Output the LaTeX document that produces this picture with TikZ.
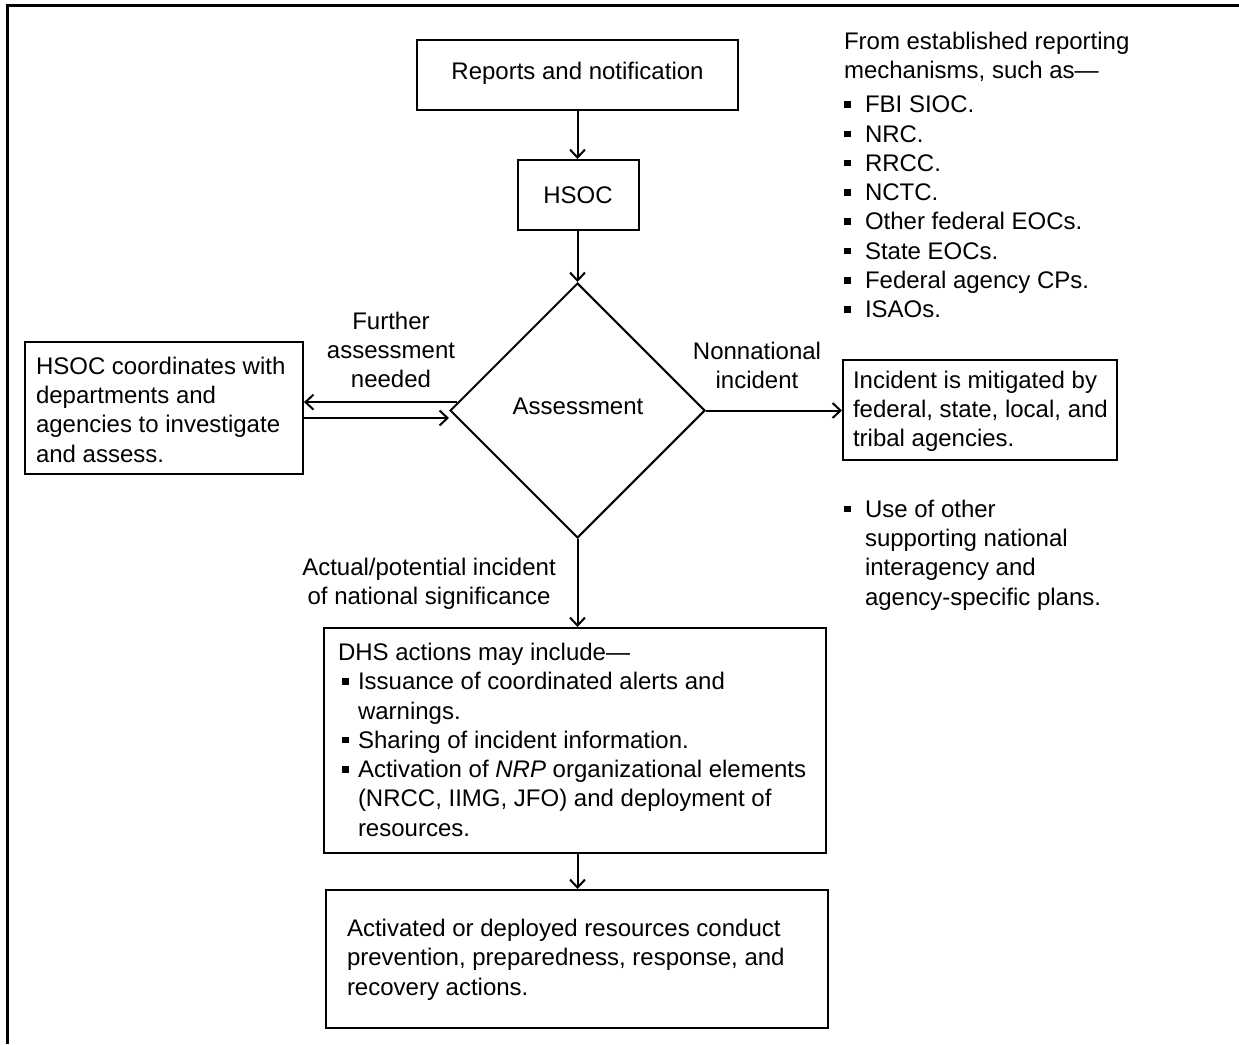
\documentclass[tikz,border=0pt]{standalone}
\usepackage{fontspec}
\setmainfont{Liberation Sans}
\usetikzlibrary{shapes.geometric,arrows.meta}
\newcommand{\sqbul}{\makebox[21pt][l]{\rule[5pt]{6.5pt}{6.5pt}}}
\newcommand{\sqbulin}{\makebox[20pt][l]{\hspace{4pt}\rule[5pt]{6.5pt}{6.5pt}}}
\begin{document}
\begin{tikzpicture}[x=1pt,y=-1pt,line width=2pt,
  txt/.style={font=\fontsize{24}{29.3}\selectfont,inner sep=0pt},
  frame/.style={draw,rectangle,inner sep=0pt,line width=2pt},
  decide/.style={draw,diamond,inner sep=0pt,line width=2pt,minimum width=255pt,minimum height=255pt},
  flow/.style={-{Straight Barb[length=8pt,width=15pt]}}]
\useasboundingbox (0,0) rectangle (1239,1044);
% outer frame (runs past the page edges)
\draw[line width=3pt] (7,1044) -- (7,5) -- (1239,5);

% boxes
\node[frame,minimum width=321pt,minimum height=70pt] (rep) at (577.5,75) {};
\node[txt] (reptxt) at (577.5,73) {Reports and notification};
\node[frame,minimum width=121pt,minimum height=70pt] (hsoc) at (578,195) {};
\node[txt] (hsoctxt) at (578,195) {HSOC};
\node[decide] (dia) at (577.5,410.5) {};
\node[txt] (diatxt) at (578,406) {Assessment};
\node[frame,minimum width=278pt,minimum height=132pt] (lbox) at (164,408) {};
\node[txt,anchor=north west,align=left] (lboxtxt) at (35,356)
  {HSOC coordinates with\\departments and\\agencies to investigate\\and assess.};
\node[frame,minimum width=274pt,minimum height=100pt] (rbox) at (980,410) {};
\node[txt,anchor=north west,align=left] (rboxtxt) at (852,370)
  {Incident is mitigated by\\federal, state, local, and\\tribal agencies.};
\node[frame,minimum width=502pt,minimum height=225pt] (dhs) at (575,740.5) {};
\node[txt,anchor=north west,align=left] (dhstxt) at (337,642)
  {DHS actions may include---\\
   \sqbulin Issuance of coordinated alerts and\\
   \hspace*{20pt}warnings.\\
   \sqbulin Sharing of incident information.\\
   \sqbulin Activation of \textit{NRP} organizational elements\\
   \hspace*{20pt}(NRCC, IIMG, JFO) and deployment of\\
   \hspace*{20pt}resources.};
\node[frame,minimum width=502pt,minimum height=138pt] (act) at (577,959) {};
\node[txt,anchor=north west,align=left] (acttxt) at (346,918)
  {Activated or deployed resources conduct\\prevention, preparedness, response, and\\recovery actions.};

% side notes
\node[txt,anchor=north west,align=left] (srcs) at (843,31)
  {From established reporting\\mechanisms, such as---};
\node[txt,anchor=north west,align=left] (srclist) at (843,95)
  {\sqbul FBI SIOC.\\\sqbul NRC.\\\sqbul RRCC.\\\sqbul NCTC.\\\sqbul Other federal EOCs.\\
   \sqbul State EOCs.\\\sqbul Federal agency CPs.\\\sqbul ISAOs.};
\node[txt,anchor=north west,align=left] (plans) at (843,499)
  {\sqbul Use of other\\\hspace*{21pt}supporting national\\\hspace*{21pt}interagency and\\\hspace*{21pt}agency-specific plans.};

% connector labels
\node[txt,anchor=north,align=center] (lblfur) at (391,311) {Further\\assessment\\needed};
\node[txt,anchor=north,align=center] (lblnon) at (757,341) {Nonnational\\incident};
\node[txt,anchor=north,align=center] (lblact) at (429,557) {Actual/potential incident\\of national significance};

% connectors
\coordinate (lo) at (0,418);
\draw[flow] (rep.south) -- (rep.south |- hsoc.north);
\draw[flow] (hsoc.south -| dia.north) -- (dia.north);
\draw[flow] (dia.176) -- (lbox.east |- dia.176);
\draw[flow] (lbox.east |- lo) -- (dia.west |- lo);
\draw[flow] (dia.east) -- (rbox.west |- dia.east);
\draw[flow] (dia.south) -- (dia.south |- dhs.north);
\draw[flow] (dia.south |- dhs.south) -- (dia.south |- act.north);
\end{tikzpicture}
\end{document}
